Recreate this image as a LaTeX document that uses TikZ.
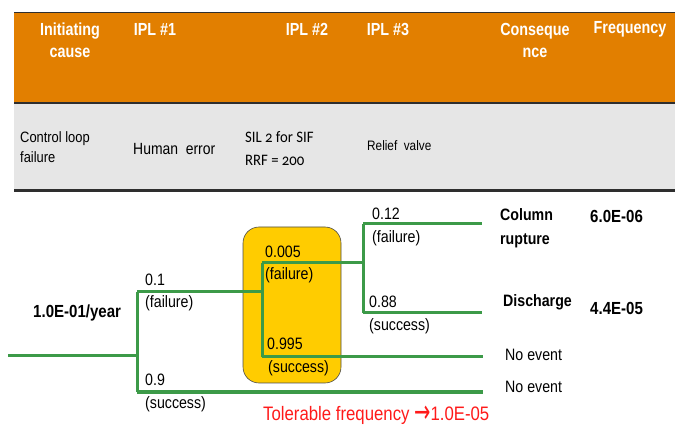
\documentclass[tikz,border=0pt]{standalone}
\usepackage{fontspec}
\setmainfont{Liberation Sans}[FakeStretch=0.86]
\newfontfamily\hdrfont{Liberation Sans}[FakeStretch=0.82]
\newfontfamily\calold{Carlito}[Numbers=OldStyle,FakeStretch=0.92]
\newfontfamily\symfont{DejaVu Sans}
\definecolor{hdrorange}{HTML}{E27F00}
\definecolor{bandgrey}{HTML}{E6E6E6}
\definecolor{bandline}{HTML}{2E2E2E}
\definecolor{treegreen}{HTML}{3C9A48}
\definecolor{iplyellow}{HTML}{FFCC00}
\definecolor{tolred}{HTML}{FF1A1A}
\tikzset{
  hdr/.style={text=white,font=\hdrfont\fontsize{17.5}{22}\selectfont\bfseries,align=center,inner sep=0pt},
  band/.style={font=\fontsize{15}{20}\selectfont,align=left,anchor=west,inner sep=0pt},
  prob/.style={font=\fontsize{16.5}{18}\selectfont,anchor=west,inner sep=0pt},
  outc/.style={font=\fontsize{16.5}{24}\selectfont\bfseries,anchor=west,align=left,inner sep=0pt},
  plain/.style={font=\fontsize{16.5}{18}\selectfont,anchor=west,inner sep=0pt},
  branch/.style={draw=treegreen,line width=3pt},
}
\begin{document}
\begin{tikzpicture}[x=1pt,y=-1pt]
\useasboundingbox (0,0) rectangle (675,430);
% header bands
\fill[hdrorange] (14,12) rectangle (675,103);
\fill[bandgrey] (14,103) rectangle (675,191);
\draw[bandline,line width=1.6pt] (14,12.5) -- (675,12.5);
\draw[bandline,line width=2pt] (14,103.5) -- (675,103.5);
\draw[bandline,line width=2.4pt] (14,190.5) -- (675,190.5);
% header texts
\node[hdr] (h1) at (70,40) {Initiating\\cause};
\node[hdr] (h2) at (155,29) {IPL \#1};
\node[hdr] (h3) at (307,29) {IPL \#2};
\node[hdr] (h4) at (388,29) {IPL \#3};
\node[hdr] (h5) at (535,40) {Conseque\\nce};
\node[hdr] (h6) at (630,29) {Frequency};
% band texts
\node[band] (g1) at (20,147) {Control loop\\failure};
\node[band,font=\fontsize{16.2}{18}\selectfont] (g2) at (133,149) {Human\ \ error};
\node[band,font=\calold\fontsize{16}{23}\selectfont] (g3) at (245,149) {SIL 2 for SIF\\RRF = 200};
\node[band,font=\fontsize{13.7}{16}\selectfont] (g4) at (367,146) {Relief\ \ valve};
% IPL2 highlight box
\node[draw=black!70,fill=iplyellow,rounded corners=16pt,minimum width=98pt,minimum height=156pt,inner sep=0pt,line width=0.6pt] (box) at (292,305) {};
% tree coordinates
\coordinate (s0) at (8,356);
\coordinate (a) at (137,356);
\coordinate (a1) at (137,292);
\coordinate (a2) at (137,392);
\coordinate (b) at (262,292);
\coordinate (b1) at (262,263);
\coordinate (b2) at (262,357);
\coordinate (c) at (363,263);
\coordinate (c1) at (363,224);
\coordinate (c2) at (363,313);
\coordinate (e1) at (482,224);
\coordinate (e2) at (482,313);
\coordinate (e3) at (483,357);
\coordinate (e4) at (483,392);
\draw[branch] (s0) -- (a);
\draw[branch] (a1) -- (a2);
\draw[branch] (a1) -- (b);
\draw[branch] (b1) -- (b2);
\draw[branch] (b1) -- (c);
\draw[branch] (c1) -- (c2);
\draw[branch] (c1) -- (e1);
\draw[branch] (c2) -- (e2);
\draw[branch] (b2) -- (e3);
\draw[branch] (a2) -- (e4);
% probabilities
\node[prob] (p1) at (145,280) {0.1};
\node[prob] (p1b) at (145,303) {(failure)};
\node[prob] (p2) at (145,380) {0.9};
\node[prob] (p2b) at (145,404) {(success)};
\node[prob] (p3) at (265,252) {0.005};
\node[prob] (p3b) at (265,275) {(failure)};
\node[prob] (p4) at (267,344) {0.995};
\node[prob] (p4b) at (268,368) {(success)};
\node[prob] (p5) at (372,214) {0.12};
\node[prob] (p5b) at (372,238) {(failure)};
\node[prob] (p6) at (369,302) {0.88};
\node[prob] (p6b) at (369,326) {(success)};
% initiating frequency
\node[outc,font=\fontsize{17.5}{20}\selectfont\bfseries] (f0) at (33,313) {1.0E-01/year};
% consequences
\node[outc] (o1) at (500,228) {Column\\rupture};
\node[outc] (o2) at (503,302) {Discharge};
\node[plain] (o3) at (505,355) {No event};
\node[plain] (o4) at (505,387) {No event};
% frequencies
\node[outc,font=\fontsize{17.5}{20}\selectfont\bfseries] (q1) at (590,216) {6.0E-06};
\node[outc,font=\fontsize{17.5}{20}\selectfont\bfseries] (q2) at (590,308) {4.4E-05};
% tolerable
\node[anchor=west,inner sep=0pt,text=tolred,font=\fontsize{19.5}{22}\selectfont] (tol) at (263,415.5) {Tolerable frequency {\symfont\raisebox{-0.12em}{\scalebox{1.0}[1.6]{→}}}1.0E-05};
\end{tikzpicture}
\end{document}
